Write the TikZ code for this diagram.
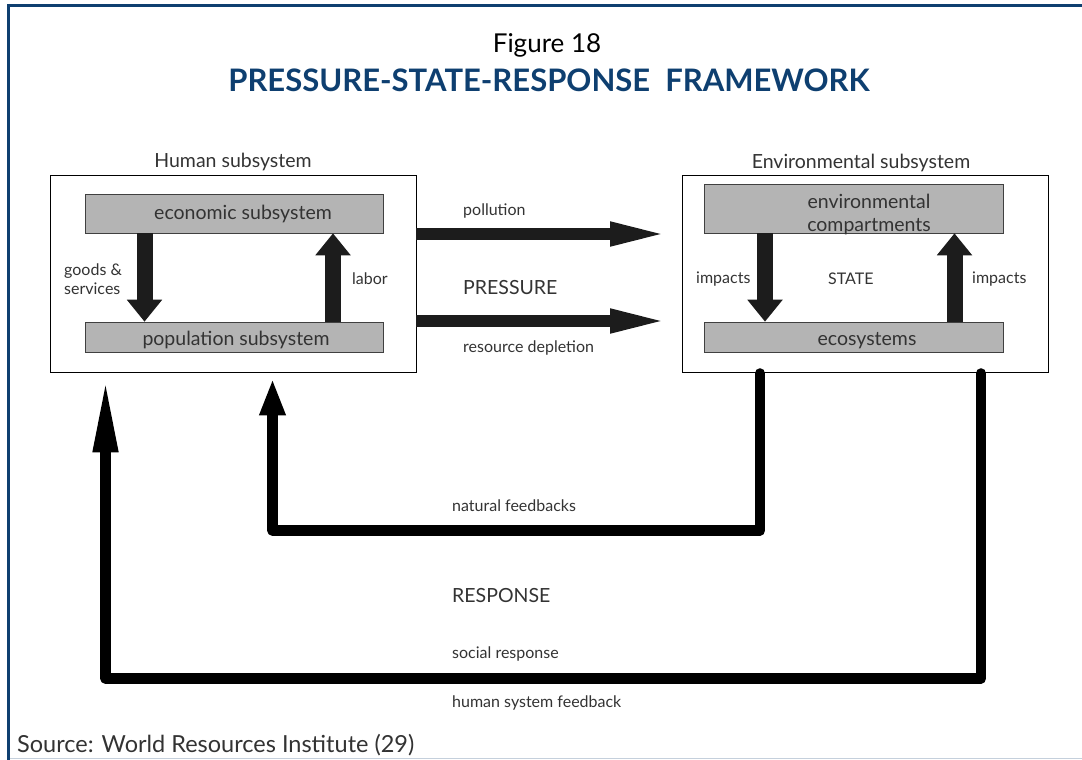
\documentclass[tikz,border=0pt]{standalone}
\usepackage{fontspec}
\setmainfont{Lato}
\usetikzlibrary{arrows.meta}
\definecolor{navy}{HTML}{0E3F70}
\definecolor{ink}{HTML}{333333}
\definecolor{barfill}{HTML}{B4B4B4}
\definecolor{blk}{HTML}{1C1C1C}
\definecolor{edge}{HTML}{C5D0DC}
\begin{document}
\begin{tikzpicture}[x=1pt,y=-1pt,
  every node/.style={inner sep=0pt, text=ink},
  sysbox/.style={draw=black, line width=0.9pt, fill=white},
  graybar/.style={draw=black!75, line width=0.6pt, fill=barfill},
  txt/.style={font=\fontsize{19.5}{23}\selectfont},
  small/.style={font=\fontsize{16}{19}\selectfont},
  inner/.style={draw=blk, line width=16pt, -{Triangle[length=22pt,width=34pt]}},
  press/.style={draw=blk, line width=12pt, -{Triangle[length=62pt,width=21pt]}},
  feedback/.style={draw=black, line width=10.5pt, line cap=round, line join=round}]
\useasboundingbox (0,0) rectangle (1082,760);

% page frame
\draw[navy, line width=3pt] (7,5.5) -- (1082,5.5);
\draw[navy, line width=3pt] (8.5,4) -- (8.5,760);
\draw[edge, line width=1.5pt] (10,758.5) -- (1082,758.5);

% titles
\node[font=\fontsize{26}{30}\selectfont, text=black] (fig) at (547,45) {Figure 18};
\node[font=\fontsize{31}{36}\bfseries\selectfont, text=navy] (title) at (549,80) {PRESSURE-STATE-RESPONSE\ \ FRAMEWORK};

% subsystem boxes
\node[sysbox, minimum width=366pt, minimum height=197pt] (hum) at (233,273.5) {};
\node[sysbox, minimum width=366pt, minimum height=197pt] (env) at (865,273.5) {};
\node[txt] (humlbl) at (233,162) {Human subsystem};
\node[txt] (envlbl) at (861,163) {Environmental subsystem};

% gray component bars
\node[graybar, minimum width=298pt, minimum height=39pt] (ecobar) at (234,213.5) {};
\node[graybar, minimum width=298pt, minimum height=30pt] (popbar) at (234,337) {};
\node[graybar, minimum width=299pt, minimum height=49pt] (cmpbar) at (853.5,208.5) {};
\node[graybar, minimum width=299pt, minimum height=30pt] (ecsbar) at (853.5,337) {};
\node[txt] (ecotxt) at (243,213.5) {economic subsystem};
\node[txt] (poptxt) at (236,340) {population subsystem};
\node[txt, align=center] (cmptxt) at (869,214) {environmental\\compartments};
\node[txt] (ecstxt) at (867,341) {ecosystems};

% flows inside the subsystems
\draw[inner] ([xshift=-89.5pt]ecobar.south) -- ([xshift=-89.5pt]popbar.north);
\draw[inner] ([xshift=99pt]popbar.north) -- ([xshift=99pt]ecobar.south);
\draw[inner] ([xshift=-88.5pt]cmpbar.south) -- ([xshift=-88.5pt]ecsbar.north);
\draw[inner] ([xshift=101pt]ecsbar.north) -- ([xshift=101pt]cmpbar.south);
\node[small, anchor=west, align=left] (goods) at (64,279.5) {goods \&\\services};
\node[small, anchor=west] (labor) at (352,279) {labor};
\node[small, anchor=west] (imp1) at (696,279) {impacts};
\node[small, anchor=west] (state) at (828,279) {STATE};
\node[small, anchor=west] (imp2) at (972,279) {impacts};

% pressure arrows
\coordinate (polend) at (672,234);
\coordinate (resend) at (672,321);
\draw[press] ([yshift=39.5pt]hum.east) -- (polend);
\draw[press] ([yshift=-47.5pt]hum.east) -- (resend);
\node[small, anchor=west] (pol) at (463,211) {pollution};
\node[txt, anchor=west] (pressure) at (463,288) {PRESSURE};
\node[small, anchor=west] (res) at (463,348) {resource depletion};

% feedback loops
\draw[feedback, -{Triangle[length=37pt,width=24pt]}]
  ([xshift=-105pt,yshift=-1pt]env.south) -- ++(0,157) -| ([xshift=39.5pt,yshift=-6pt]hum.south);
\draw[feedback, -{Triangle[length=74pt,width=23pt]}]
  ([xshift=116pt,yshift=-1pt]env.south) -- ++(0,305) -| ([xshift=-127.5pt,yshift=-6pt]hum.south);
\node[small, anchor=west] (nat) at (452,506) {natural feedbacks};
\node[txt, anchor=west] (response) at (452,596) {RESPONSE};
\node[small, anchor=west] (soc) at (452,654) {social response};
\node[small, anchor=west] (hsf) at (452,703) {human system feedback};

% source line
\node[font=\fontsize{23.5}{27}\selectfont, anchor=west] (src) at (17,745) {Source: World Resources Institute (29)};
\end{tikzpicture}
\end{document}
